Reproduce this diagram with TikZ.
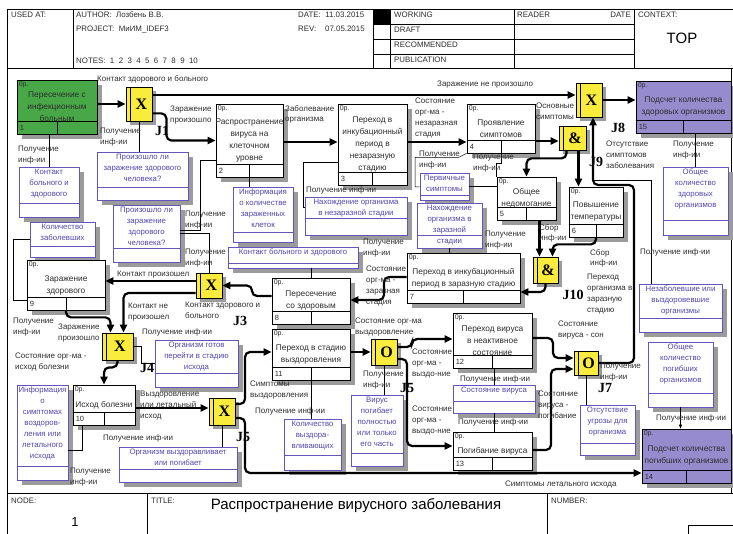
\documentclass[tikz,border=0pt]{standalone}
\usepackage{fontspec}
\setmainfont{Liberation Sans}
\newfontfamily\serifb{Liberation Serif}
\usetikzlibrary{positioning,calc,arrows.meta}
\tikzset{>={Triangle[length=8pt,width=7pt]}}

\definecolor{uobgreen}{RGB}{72,168,72}
\definecolor{uobviolet}{RGB}{150,140,205}
\definecolor{jyellow}{RGB}{250,236,60}
\definecolor{refblue}{RGB}{100,85,190}
\definecolor{reftxt}{RGB}{80,70,175}
\definecolor{shadowgray}{RGB}{155,155,155}
\definecolor{txtgray}{RGB}{45,45,45}

\tikzset{
  uob/.style={draw,line width=0.8pt,rectangle,inner sep=0pt},
  refr/.style={draw=refblue,fill=white,line width=0.7pt,rectangle,inner sep=0pt},
  refline/.style={draw=refblue,line width=0.6pt},
  jbox/.style={draw,fill=jyellow,line width=0.8pt,rectangle,inner sep=0pt},
  jsym/.style={font=\serifb\bfseries\fontsize{16}{16}\selectfont,inner sep=0pt},
  shadowfill/.style={fill=shadowgray},
  uobtext/.style={align=center,inner sep=0pt,font=\fontsize{8.3}{12}\selectfont,text=txtgray},
  reftext/.style={align=center,inner sep=0pt,anchor=north,font=\fontsize{7.8}{11}\selectfont,text=reftxt},
  optag/.style={anchor=north west,inner sep=2pt,font=\fontsize{7}{8}\selectfont,text=txtgray},
  numtag/.style={anchor=west,inner sep=0pt,font=\fontsize{7.5}{8}\selectfont,text=txtgray},
  lbl/.style={anchor=north west,inner sep=0pt,align=left,font=\fontsize{8}{10.8}\selectfont,text=txtgray},
  jlbl/.style={inner sep=0pt,font=\serifb\bfseries\fontsize{14}{14}\selectfont},
  hdr/.style={anchor=north west,inner sep=0pt,font=\fontsize{7.9}{8}\selectfont,text=txtgray},
  rel/.style={line width=0.5pt},
  flow/.style={->,line width=2.2pt,rounded corners=5pt},
  framelin/.style={line width=0.8pt}
}

% unit of behaviour: name, x, y, width, height, number, text, fill
\newcommand{\uobox}[8]{%
  \fill[shadowfill] (#2+5,#3+5) rectangle ++(#4,#5);
  \node[uob,fill=#8,minimum width=#4,minimum height=#5] (#1) at (#2+#4/2,#3+#5/2) {};
  \draw ($(#1.south west)+(0,-13)$) -- ($(#1.south east)+(0,-13)$);
  \draw ($(#1.south)+(0,-13)$) -- (#1.south);
  \node[optag] (#1-op) at (#1.north west) {0р.};
  \node[numtag] (#1-nr) at ($(#1.south west)+(3,-6.5)$) {#6};
  \node[uobtext] (#1-tx) at (#1.center) {#7};
}

% referent: name, x, y, width, height, lower row, text
\newcommand{\refrbox}[7]{%
  \fill[shadowfill] (#2+5,#3+5) rectangle ++(#4,#5);
  \node[refr,minimum width=#4,minimum height=#5] (#1) at (#2+#4/2,#3+#5/2) {};
  \draw[refline] ($(#1.south west)+(0,-#6)$) -- ($(#1.south east)+(0,-#6)$);
  \node[reftext] (#1-tx) at ($(#1.north)+(0,2)$) {#7};
}

% junction: name, x, y, width, height, symbol
\newcommand{\junc}[6]{%
  \fill[shadowfill] (#2+4,#3+4) rectangle ++(#4,#5);
  \node[jbox,minimum width=#4,minimum height=#5] (#1) at (#2+#4/2,#3+#5/2) {};
  \draw ($(#1.north west)+(5,0)$) -- ($(#1.south west)+(5,0)$);
  \node[jsym] (#1-s) at ($(#1.center)+(2.5,0)$) {#6};
}

\begin{document}
\begin{tikzpicture}[x=1pt,y=-1pt]
\useasboundingbox (0,0) rectangle (733,534);

% Header
\draw[framelin] (7,9) -- (733,9);
\draw[framelin] (7,68) -- (733,68);
\draw[framelin] (7,9) -- (7,534);
\draw[framelin] (73,9) -- (73,68);
\draw[framelin] (373,9) -- (373,68);
\draw[framelin] (390,9) -- (390,68);
\draw[framelin] (514,9) -- (514,68);
\draw[framelin] (634,9) -- (634,68);
\foreach \yy in {24,39,54} \draw[framelin] (373,\yy) -- (634,\yy);
\fill (373,9) rectangle (390,24);
\node[hdr] (h-used) at (11,12) {USED AT:};
\node[hdr] (h-auth) at (76,12) {AUTHOR:\ \ Лозбень В.В.};
\node[hdr] (h-proj) at (76,26) {PROJECT:\ \ МиИМ\_IDEF3};
\node[hdr] (h-notes) at (76,58) {NOTES:\ \ 1\ \ 2\ \ 3\ \ 4\ \ 5\ \ 6\ \ 7\ \ 8\ \ 9\ \ 10};
\node[hdr] (h-date) at (298,12) {DATE:\ \ 11.03.2015};
\node[hdr] (h-rev) at (298,26) {REV:\ \ \ \ 07.05.2015};
\node[hdr] (h-work) at (394,12) {WORKING};
\node[hdr] (h-draft) at (394,27) {DRAFT};
\node[hdr] (h-rec) at (394,42) {RECOMMENDED};
\node[hdr] (h-pub) at (394,57) {PUBLICATION};
\node[hdr] (h-read) at (517,12) {READER};
\node[hdr,anchor=north east] (h-rdate) at (631,12) {DATE};
\node[hdr] (h-ctx) at (638,12) {CONTEXT:};
\node[font=\fontsize{15}{15}\selectfont] (h-top) at (682,38) {TOP};

% Diagram frame and footer
\draw[framelin] (731,68) -- (731,493);
\draw[framelin] (7,493) -- (733,493);
\draw[framelin] (147,493) -- (147,534);
\draw[framelin] (547,493) -- (547,534);
\draw[framelin] (688,525) rectangle (740,540);
\node[hdr] (f-node) at (11,498) {NODE:};
\node[hdr] (f-title) at (151,498) {TITLE:};
\node[hdr] (f-num) at (551,498) {NUMBER:};
\node[font=\fontsize{15}{15}\selectfont] (f-ttl) at (356,506) {Распространение вирусного заболевания};
\node[font=\fontsize{13}{13}\selectfont] (f-one) at (75,522) {1};

% Referents
\refrbox{r1}{19}{167}{60}{50}{14}{Контакт\\больного и\\здорового}
\refrbox{r2}{97}{152}{91}{48}{13}{Произошло ли\\заражение здорового\\человека?}
\refrbox{r3}{113}{205}{67}{57}{14}{Произошло ли\\заражение\\здорового\\человека?}
\refrbox{r4}{30}{222}{65}{35}{11}{Количество\\заболевших}
\refrbox{r5}{233}{187}{60}{55}{10}{Информация\\о количестве\\зараженных\\клеток}
\refrbox{r6}{305}{197}{102}{38}{17}{Нахождение организма\\в незаразной стадии}
\refrbox{r7}{420}{173}{49}{27}{5}{Первичные\\симптомы}
\refrbox{r8}{417}{203}{65}{45}{13}{Нахождение\\организма в\\заразной\\стадии}
\refrbox{r9}{228}{247}{130}{21}{5}{Контакт больного и здорового}
\refrbox{r10}{663}{167}{65}{68}{15}{Общее\\количество\\здоровых\\организмов}
\refrbox{r11}{639}{284}{83}{48}{14}{Незаболевшие или\\выздоровевшие\\организмы}
\refrbox{r12}{648}{342}{65}{65}{14}{Общее\\количество\\погибших\\организмов}
\refrbox{r13}{155}{340}{83}{47}{14}{Организм готов\\перейти в стадию\\исхода}
\refrbox{r14}{17}{385}{51}{95}{14}{Информация\\о\\симптомах\\воздоров-\\ления или\\летального\\исхода}
\refrbox{r15}{119}{447}{118}{35}{13}{Организм выздоравливает\\или погибает}
\refrbox{r16}{284}{419}{57}{51}{15}{Количество\\выздора-\\вливающих}
\refrbox{r17}{351}{395}{52}{71}{13}{Вирус\\погибает\\полностью\\или только\\его часть}
\refrbox{r18}{453}{385}{82}{28}{12}{Состояние вируса}
\refrbox{r19}{580}{405}{55}{50}{12}{Отсутствие\\угрозы для\\организма}

% Units of behaviour
\uobox{u1}{17}{80}{80}{54}{1}{Пересечение с\\инфекционным\\больным}{uobgreen}
\uobox{u2}{216}{104}{67}{73}{2}{Распространение\\вируса на\\клеточном\\уровне}{white}
\uobox{u3}{338}{104}{69}{81}{3}{Переход в\\инкубационный\\период в\\незаразную\\стадию}{white}
\uobox{u4}{467}{104}{68}{49}{4}{Проявление\\симптомов}{white}
\uobox{u15}{636}{81}{95}{52}{15}{Подсчет количества\\здоровых организмов}{uobviolet}
\uobox{u5}{497}{177}{59}{43}{5}{Общее\\недомогание}{white}
\uobox{u6}{569}{187}{54}{50}{6}{Повышение\\температуры}{white}
\uobox{u7}{407}{253}{113}{50}{7}{Переход в инкубационный\\период в заразную стадию}{white}
\uobox{u8}{272}{278}{78}{46}{8}{Пересечение\\со здоровым}{white}
\uobox{u9}{27}{260}{78}{50}{9}{Заражение\\здорового}{white}
\uobox{u10}{73}{385}{62}{40}{10}{Исход болезни}{white}
\uobox{u11}{272}{329}{78}{51}{11}{Переход в стадию\\выздоровления}{white}
\uobox{u12}{453}{313}{79}{55}{12}{Переход вируса\\в неактивное\\состояние}{white}
\uobox{u13}{453}{432}{79}{38}{13}{Погибание вируса}{white}
\uobox{u14}{642}{429}{89}{54}{14}{Подсчет количества\\погибших организмов}{uobviolet}

% Junctions
\junc{j1}{126}{87}{26}{34}{X}
\junc{j8}{576}{83}{26}{34}{X}
\junc{j9}{559}{126}{27}{24}{\&}
\junc{j10}{533}{257}{25}{26}{\&}
\junc{j3}{196}{273}{26}{25}{X}
\junc{j4}{102}{333}{31}{27}{X}
\junc{j5}{371}{339}{26}{26}{O}
\junc{j6}{209}{398}{26}{27}{X}
\junc{j7}{574}{351}{24}{24}{O}

% Relations to referents
\draw[rel] (r1.north) -- (r1.north |- u1.south);
\draw[rel] (j1.south) -- (j1.south |- r2.north);
\draw[rel] (u2.west) ++(0,20) -| (200,230) -- (r3.east |- 200,230);
\draw[rel] (u2.south) -- (u2.south |- r5.north);
\draw[rel] (u3.west) ++(0,18) -| (303,207) -- (r6.west |- 303,207);
\draw[rel] (u4.south west) -- ++(-8,4) -| (415,187) -- (r7.west |- 415,187);
\draw[rel] (r7.east) -- (r7.east -| u5.west);
\draw[rel] (u4.south) -- ++(0,10) -| (u5.north west);
\draw[rel] (r8.south) -- (r8.south |- u7.north);
\draw[rel] (r9.south -| u8.north) -- (u8.north);
\draw[rel] (r10.north) -- (r10.north |- u15.south);
\coordinate (r11t) at ($(r11.north west)+(13,0)$);
\coordinate (j8link) at ($(j8.south)+(4,63)$);
\draw[rel] (r11t) |- (j8link);
\draw[rel] (r4.west) -| (13,300) -- (u9.west |- 13,300);
\draw[rel] (j3.north) |- (r3.east);
\draw[rel] (j4.east) -- ++(8,0) |- (r13.west);
\draw[rel] (u10.south west) ++(10,0) |- (r14.east |- 0,450);
\draw[rel] (j6.south) -- (j6.south |- r15.north);
\draw[rel] (u11.south) -- (u11.south |- r16.north);
\draw[rel] (j5.south) -- (j5.south |- r17.north);
\draw[rel] (r18.north) -- (r18.north |- u12.south);
\draw[rel] (r18.south) -- (r18.south |- u13.north);
\draw[rel] (j7.south) -- (j7.south |- r19.north);
\draw[rel,-{Triangle[length=4pt,width=3pt]}] (r12.south) -- (r12.south |- u14.north);

% Precedence links
\draw[flow] (u1.east |- j1.west) -- (j1.west);
\draw[flow] (j1.south east) ++(0,-8) -- ++(14,0) |- (u2.west);
\draw[flow] (j1.east |- 0,95) -- (j8.west |- 0,95);
\draw[flow] (u2.east |- 0,142) -- (u3.west |- 0,142);
\draw[flow] (u3.east |- 0,142) -- (u4.west |- 0,142);
\draw[flow] (u4.east |- 0,141) -- (j9.west |- 0,141);
\draw[flow] (j9.south) ++(-6,0) -- ++(0,8) -| (u5.north);
\coordinate (j9s) at ($(j9.south)+(6,0)$);
\draw[flow] (j9s) -- (j9s |- u6.north);
\draw[flow] (j8.east) -- (j8.east -| u15.west);
\coordinate (j8in) at ($(j8.south)+(4,0)$);
\draw[flow] (j7.east) -| (634,185) -| (j8in);
\coordinate (j10a) at ($(j10.north)+(-6,0)$);
\coordinate (j10b) at ($(j10.north)+(7,0)$);
\draw[flow] (j10a |- u5.south) -- (j10a);
\draw[flow] (u6.south) -- ++(0,7) -| (j10b);
\draw[flow] (j10.south) |- (u7.east |- 0,292);
\draw[flow] (u7.west |- 0,277) -- (384,277) |- (u8.east |- 0,300);
\draw[flow] (u8.west |- 0,296) -- (252,296) |- (j3.east);
\draw[flow] (j3.west |- 0,281) -- (u9.east |- 0,281);
\coordinate (j4b) at ($(j4.north)+(6,0)$);
\coordinate (j4a) at ($(j4.north)+(-7,0)$);
\draw[flow] (j3.west |- 0,293) -| (j4b);
\draw[flow] (u9.south) -- ++(0,7) -| (j4a);
\draw[flow] (j4.south) -- ++(0,7) -| (u10.north);
\draw[flow] (u10.east |- 0,408) -- (j6.west |- 0,408);
\draw[flow] (j6.east |- 0,404) -- (245,404) |- (u11.west |- 0,352);
\draw[flow] (j6.east |- 0,418) -- (245,418) |- (u14.west |- 0,473);
\draw[flow] (u11.east |- 0,352) -- (j5.west |- 0,352);
\draw[flow] (j5.east |- 0,347) -- (412,347) |- (u12.west |- 0,339);
\draw[flow] (j5.east |- 0,359) -- (407,359) |- (u13.west |- 0,446);
\draw[flow] (u12.east |- 0,338) -- (553,338) |- (j7.west |- 0,358);
\draw[flow] (u13.east |- 0,450) -- (551,450) |- (j7.west |- 0,369);

% Link labels
\node[lbl] (l-kzb) at (97,75) {Контакт здорового и больного};
\node[lbl] (l-zp1) at (170,106) {Заражение\\произошло};
\node[lbl] (l-pi1) at (100,128) {Получение\\инф-ии};
\node[lbl] (l-pi2) at (18,146) {Получение\\инф-ии};
\node[lbl] (l-pi3) at (185,211) {Получение\\инф-ии};
\node[lbl] (l-zo) at (285,105) {Заболевание\\организма};
\node[lbl] (l-pi4) at (306,187) {Получение инф-ии};
\node[lbl] (l-sn) at (415,98) {Состояние\\орг-ма -\\незаразная\\стадия};
\node[lbl] (l-znp) at (437,81) {Заражение не произошло};
\node[lbl] (l-pi5) at (419,151) {Получение\\инф-ии};
\node[lbl] (l-pi6) at (473,154) {Получение\\инф-ии};
\node[lbl] (l-os) at (536,103) {Основные\\симптомы};
\node[lbl] (l-oz) at (606,141) {Отсутствие\\симптомов\\заболевания};
\node[lbl] (l-pi7) at (673,141) {Получение\\инф-ии};
\node[lbl] (l-pi8) at (485,231) {Получение\\инф-ии};
\node[lbl] (l-sb1) at (539,224) {Сбор\\инф-ии};
\node[lbl] (l-sb2) at (590,249) {Сбор\\инф-ии};
\node[lbl] (l-poz) at (587,274) {Переход\\организма в\\заразную\\стадию};
\node[lbl] (l-pi9) at (640,249) {Получение инф-ии};
\node[lbl] (l-pi10) at (363,239) {Получение\\инф-ии};
\node[lbl] (l-sz) at (366,266) {Состояние\\орг-ма -\\заразная\\стадия};
\node[lbl] (l-pi11) at (185,249) {Получение\\инф-ии};
\node[lbl] (l-kp) at (117,271) {Контакт произошел};
\node[lbl] (l-knp) at (128,303) {Контакт не\\произошел};
\node[lbl] (l-kzb2) at (185,302) {Контакт здорового и\\больного};
\node[lbl] (l-pi12) at (13,318) {Получение\\инф-ии};
\node[lbl] (l-zp2) at (58,324) {Заражение\\произошло};
\node[lbl] (l-pi13) at (142,329) {Получение инф-ии};
\node[lbl] (l-sib) at (15,353) {Состояние орг-ма -\\исход болезни};
\node[lbl] (l-vli) at (140,391) {Выздоровление\\или летальный\\исход};
\node[lbl] (l-pi14) at (103,435) {Получение инф-ии};
\node[lbl] (l-pi15) at (70,468) {Получение\\инф-ии};
\node[lbl] (l-sv) at (250,381) {Симптомы\\выздоровления};
\node[lbl] (l-pi16) at (255,408) {Получение инф-ии};
\node[lbl] (l-sov) at (355,318) {Состояние орг-ма\\выздоровление};
\node[lbl] (l-pi17) at (363,371) {Получение\\инф-ии};
\node[lbl] (l-sv1) at (412,349) {Состояние\\орг-ма -\\выздо-ние};
\node[lbl] (l-sv2) at (412,406) {Состояние\\орг-ма -\\выздо-ние};
\node[lbl] (l-pi18) at (460,376) {Получение инф-ии};
\node[lbl] (l-pi19) at (458,419) {Получение инф-ии};
\node[lbl] (l-svs) at (558,321) {Состояние\\вируса - сон};
\node[lbl] (l-pi20) at (600,363) {Получение\\инф-ии};
\node[lbl] (l-svp) at (538,391) {Состояние\\вируса -\\погибание};
\node[lbl] (l-pi21) at (656,415) {Получение инф-ии};
\node[lbl] (l-sli) at (505,481) {Симптомы летального исхода};

% Junction labels
\node[jlbl] (l-j1) at (162,131) {J1};
\node[jlbl] (l-j8) at (618,128) {J8};
\node[jlbl] (l-j9) at (596,162) {J9};
\node[jlbl] (l-j10) at (573,295) {J10};
\node[jlbl] (l-j3) at (240,321) {J3};
\node[jlbl] (l-j4) at (147,368) {J4};
\node[jlbl] (l-j5) at (407,388) {J5};
\node[jlbl] (l-j6) at (243,437) {J5};
\node[jlbl] (l-j7) at (605,388) {J7};
\end{tikzpicture}
\end{document}
